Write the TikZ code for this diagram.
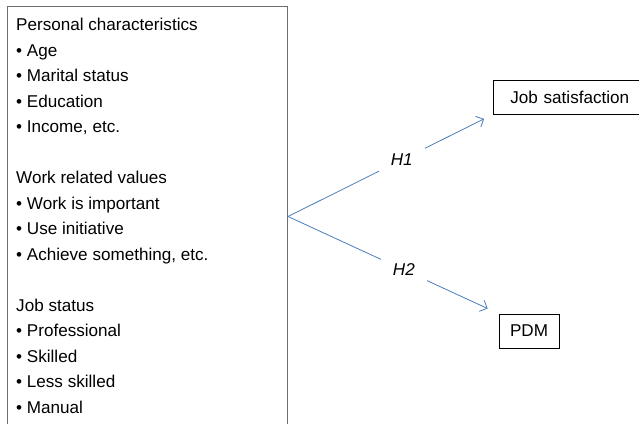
\documentclass[tikz,border=0pt]{standalone}
\usepackage{fontspec}
\setmainfont{Liberation Sans}
\usetikzlibrary{arrows.meta}
\definecolor{hypblue}{RGB}{74,126,187}
\definecolor{boxgray}{RGB}{110,110,110}
\begin{document}
\begin{tikzpicture}[x=1pt, y=1pt,
    factorbox/.style={draw=boxgray, line width=1pt, minimum width=280, minimum height=420, inner sep=0, anchor=north west},
    listitem/.style={inner sep=0, anchor=base west, font=\fontsize{17.1}{20}\selectfont},
    outbox/.style={draw, line width=0.8pt, minimum height=34, inner sep=0, font=\fontsize{17.1}{20}\selectfont},
    hyp/.style={hypblue, line width=0.8pt, ->, >={Straight Barb[length=6pt,width=12pt]}},
    hlabel/.style={fill=white, inner xsep=12pt, inner ysep=6pt, text=black, font=\fontsize{17.1}{20}\selectfont\itshape}]
        \useasboundingbox (0,0) rectangle (639,-423);
        % nodes
        \node[factorbox] (factors) at (7,-6) {};
        \node[outbox, anchor=west, inner xsep=17pt, text width=150, align=left] (jobsat) at (493,-97) {Job satisfaction};
        \node[outbox, minimum width=60] (pdm) at (529,-331) {PDM};
        % list of factors
        \foreach \n/\txt in {0/Personal characteristics, 1/• Age, 2/• Marital status, 3/• Education,
            {4/• Income, etc.}, 6/Work related values, 7/• Work is important, 8/• Use initiative,
            {9/• Achieve something, etc.}, 11/Job status, 12/• Professional, 13/• Skilled,
            14/• Less skilled, 15/• Manual}
            \node[listitem] (item\n) at (16,{-30.7-25.5*\n}) {\txt};
        % edges
        \draw[hyp, shorten >=10pt] (factors.east) -- node[hlabel, pos=0.555]{H1} (jobsat.south west);
        \draw[hyp, shorten >=12pt] (factors.east) -- node[hlabel, pos=0.55]{H2} (pdm.north west);
      \end{tikzpicture}
\end{document}
